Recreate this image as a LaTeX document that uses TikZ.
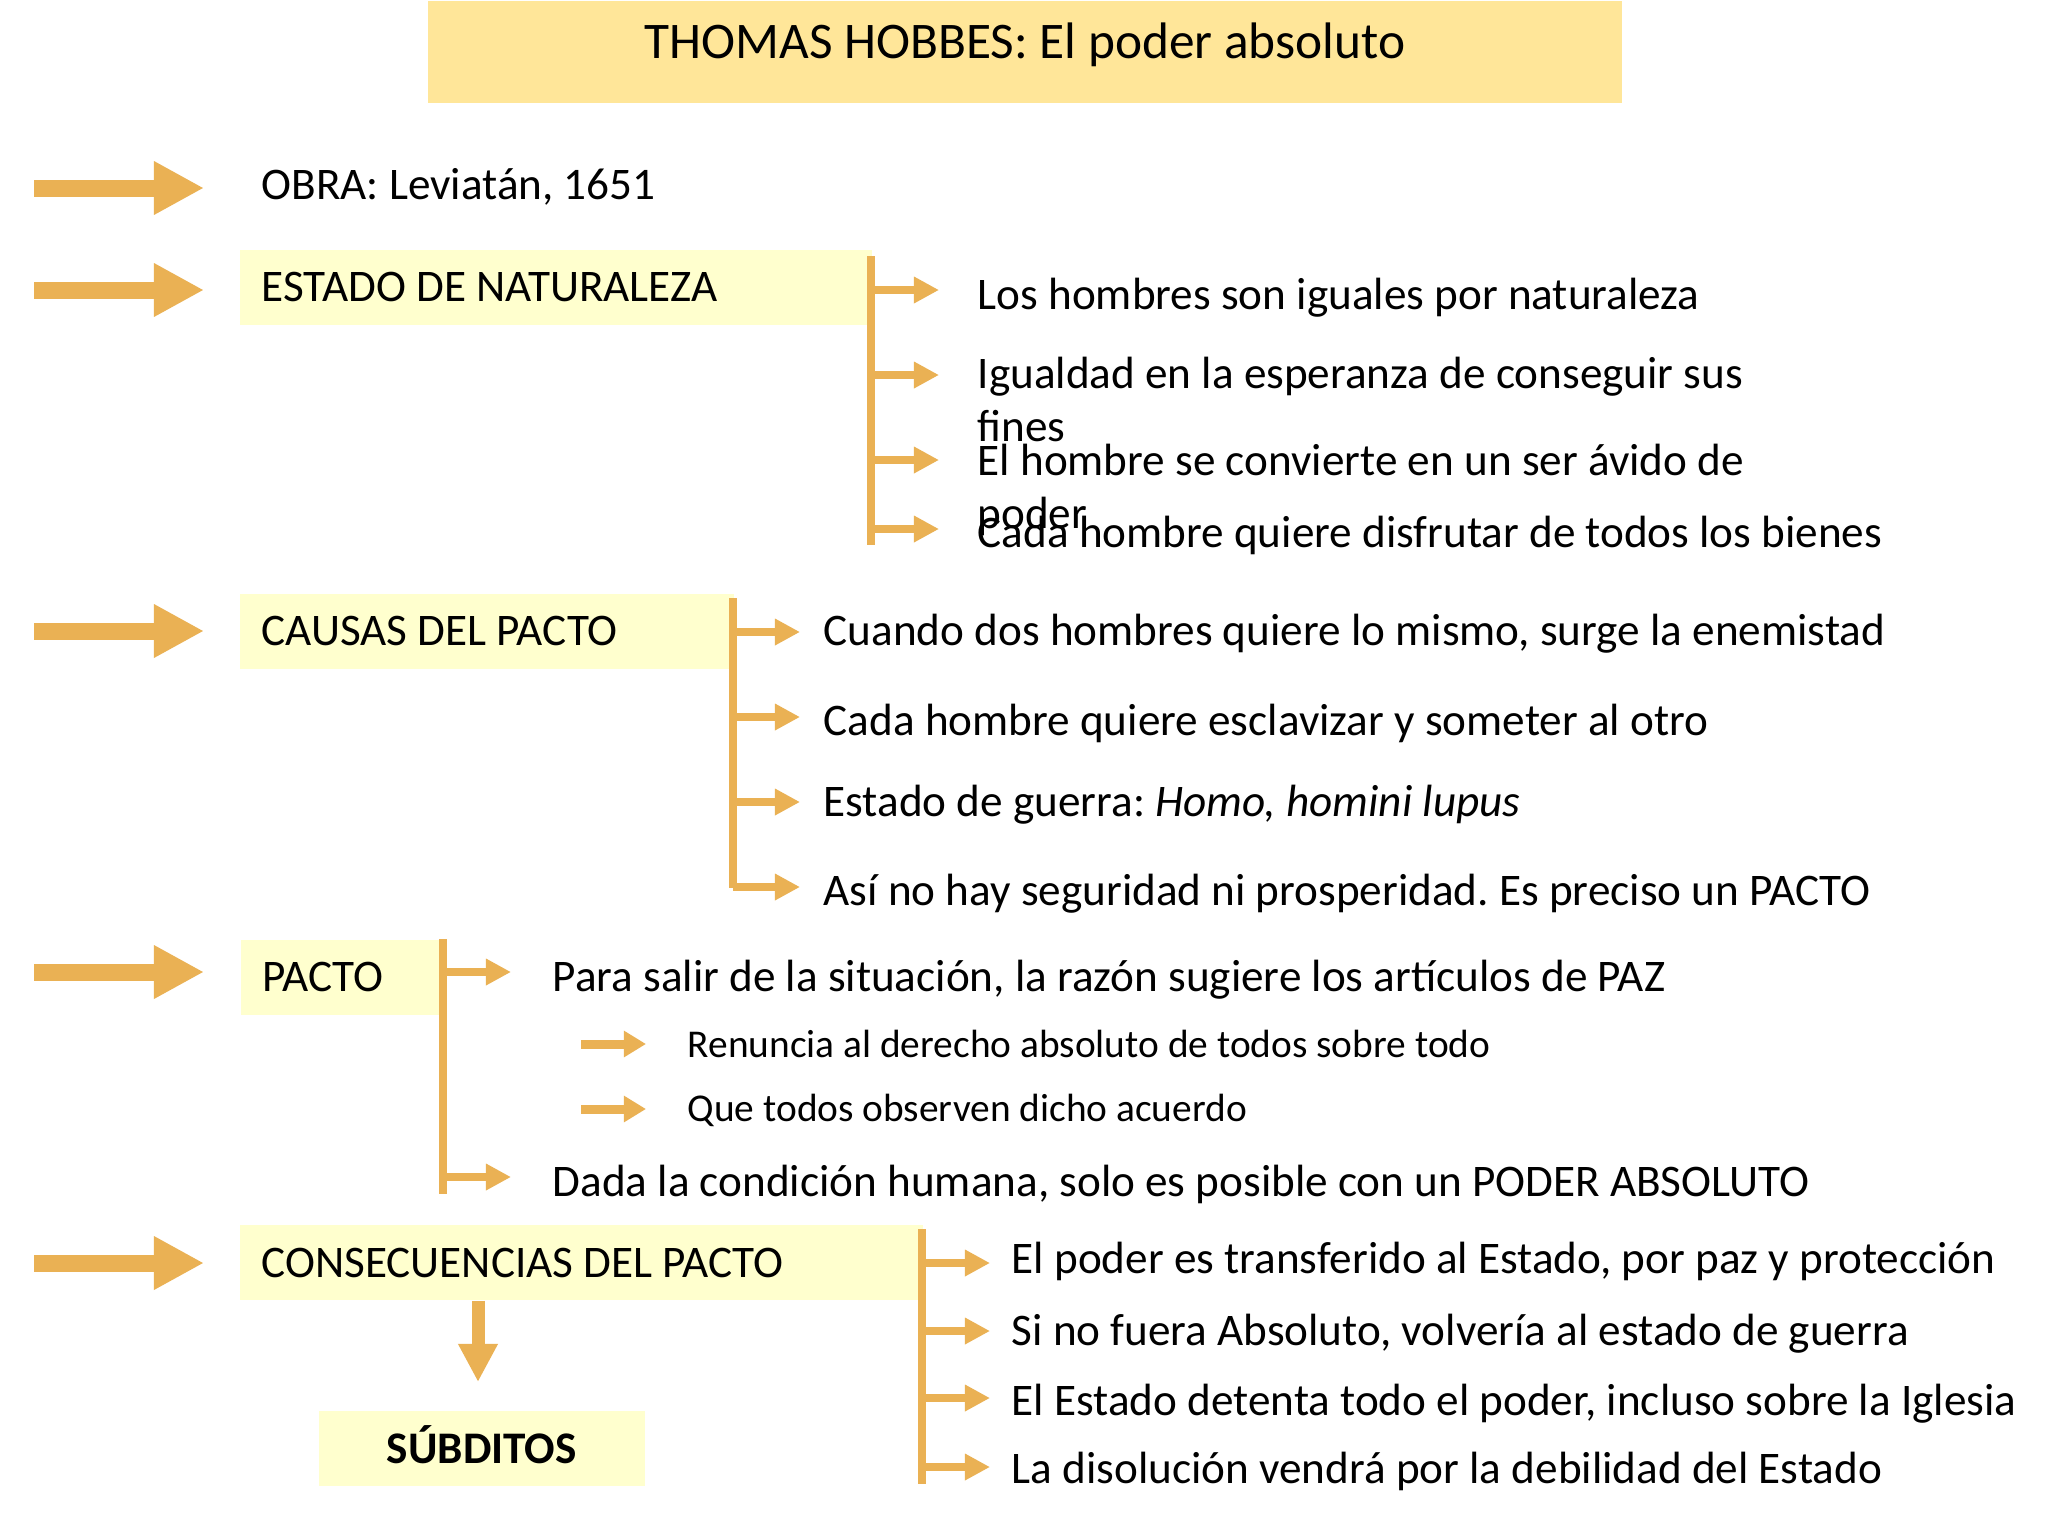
\documentclass[tikz,border=0pt]{standalone}
\usepackage{fontspec}
\setmainfont{Carlito}
\usetikzlibrary{arrows.meta}
\definecolor{acc}{RGB}{234,177,84}
\definecolor{titlefill}{RGB}{255,230,153}
\definecolor{boxfill}{RGB}{255,255,206}
\newcommand\mainsz{\fontsize{12.85pt}{15.1pt}\selectfont}
\newcommand\smallsz{\fontsize{11.2pt}{13pt}\selectfont}
\newcommand\titlesz{\fontsize{14.6pt}{17pt}\selectfont}
\newcommand\twoline[2]{\vtop{\baselineskip=15.1pt\hbox{#1}\hbox{#2}}}
\frenchspacing
\begin{document}
\begin{tikzpicture}[x=0.01cm,y=-0.01cm,
 txt/.style={anchor=base west, inner sep=0pt, font=\mainsz},
 smalltxt/.style={anchor=base west, inner sep=0pt, font=\smallsz},
 hbox/.style={fill=boxfill, inner ysep=0pt, inner xsep=0.22cm, minimum height=0.755cm, text height=0.29cm, text depth=0pt, font=\mainsz, anchor=north west, align=flush left},
 bigarrow/.style={draw=acc, line width=0.17cm, -{Triangle[length=0.5cm,width=0.5cm]}},
 brarrow/.style={draw=acc, line width=0.08cm, -{Triangle[length=0.25cm,width=0.25cm]}},
 subarrow/.style={draw=acc, line width=0.09cm, -{Triangle[length=0.22cm,width=0.25cm]}},
 downarrow/.style={draw=acc, line width=0.13cm, -{Triangle[length=0.38cm,width=0.37cm]}},
 brline/.style={draw=acc, line width=0.08cm},
]
\useasboundingbox[fill=white] (0,0) rectangle (2048,1536);

% title
\node[fill=titlefill, minimum width=11.94cm, minimum height=1.02cm, text height=0.34cm, text depth=0.2cm, font=\titlesz, inner sep=0pt, anchor=north west] (title) at (427,0) {THOMAS HOBBES: El poder absoluto};

% big left arrows
\foreach \n/\yy in {a1/188,a2/290,a3/631,a4/972,a5/1263}{
  \coordinate (\n s) at (34,\yy);
  \coordinate (\n t) at (204,\yy);
  \draw[bigarrow] (\n s) -- (\n t);
}

% OBRA
\node[txt] (obra) at (261,199) {OBRA: Leviatán, 1651};

% ESTADO DE NATURALEZA
\node[hbox, text width=5.88cm] (estado) at (239,249) {ESTADO DE NATURALEZA};
\coordinate (eT) at (871,256);
\coordinate (eB) at (871,545);
\draw[brline] (eT) -- (eB);
\foreach \n/\yy in {1/290,2/375,3/460,4/529}{
  \coordinate (e\n tip) at (939,\yy);
  \draw[brarrow] (eT |- e\n tip) -- (e\n tip);
}
\node[txt] (e1) at (977,309) {Los hombres son iguales por naturaleza};
\node[txt] (e2) at (977,388) {\twoline{Igualdad en la esperanza de conseguir sus}{fines}};
\node[txt] (e3) at (977,475) {\twoline{El hombre se convierte en un ser ávido de}{poder}};
\node[txt] (e4) at (977,547) {Cada hombre quiere disfrutar de todos los bienes};

% CAUSAS DEL PACTO
\node[hbox, text width=4.50cm] (causas) at (239,593) {CAUSAS DEL PACTO};
\coordinate (cT) at (733,598);
\coordinate (cB) at (733,888);
\draw[brline] (cT) -- (cB);
\foreach \n/\yy in {1/632,2/717,3/802,4/887}{
  \coordinate (c\n tip) at (800,\yy);
  \draw[brarrow] (cT |- c\n tip) -- (c\n tip);
}
\node[txt] (c1) at (823,645) {Cuando dos hombres quiere lo mismo, surge la enemistad};
\node[txt] (c2) at (823,735) {Cada hombre quiere esclavizar y someter al otro};
\node[txt] (c3) at (823,816) {Estado de guerra: \textit{Homo, homini lupus}};
\node[txt] (c4) at (823,905) {Así no hay seguridad ni prosperidad. Es preciso un PACTO};

% PACTO
\node[hbox, text width=1.59cm] (pacto) at (240,939) {PACTO};
\coordinate (pT) at (443,939);
\coordinate (pB) at (443,1194);
\draw[brline] (pT) -- (pB);
\coordinate (p1tip) at (511,972);
\coordinate (p2tip) at (511,1177);
\draw[brarrow] (pT |- p1tip) -- (p1tip);
\draw[brarrow] (pT |- p2tip) -- (p2tip);
\node[txt] (p1) at (552,991) {Para salir de la situación, la razón sugiere los artículos de PAZ};
\node[txt] (p2) at (552,1196) {Dada la condición humana, solo es posible con un PODER ABSOLUTO};
\coordinate (s1s) at (581,1044);
\coordinate (s1t) at (646,1044);
\coordinate (s2s) at (581,1109);
\coordinate (s2t) at (646,1109);
\draw[subarrow] (s1s) -- (s1t);
\draw[subarrow] (s2s) -- (s2t);
\node[smalltxt] (s1) at (687,1057) {Renuncia al derecho absoluto de todos sobre todo};
\node[smalltxt] (s2) at (687,1121) {Que todos observen dicho acuerdo};

% CONSECUENCIAS DEL PACTO
\node[hbox, text width=6.39cm] (consec) at (239,1224) {CONSECUENCIAS DEL PACTO};
\coordinate (kT) at (922,1229);
\coordinate (kB) at (922,1484);
\draw[brline] (kT) -- (kB);
\foreach \n/\yy in {1/1263,2/1331,3/1398,4/1467}{
  \coordinate (k\n tip) at (990,\yy);
  \draw[brarrow] (kT |- k\n tip) -- (k\n tip);
}
\node[txt] (k1) at (1011,1273) {El poder es transferido al Estado, por paz y protección};
\node[txt] (k2) at (1011,1345) {Si no fuera Absoluto, volvería al estado de guerra};
\node[txt] (k3) at (1011,1415) {El Estado detenta todo el poder, incluso sobre la Iglesia};
\node[txt] (k4) at (1011,1483) {La disolución vendrá por la debilidad del Estado};

% SUBDITOS
\node[hbox, text width=2.82cm, align=flush center, font=\mainsz\bfseries] (subd) at (318,1410) {SÚBDITOS};
\coordinate (dtip) at (478,1382);
\draw[downarrow] (consec.south -| dtip) -- (dtip);
\end{tikzpicture}
\end{document}
